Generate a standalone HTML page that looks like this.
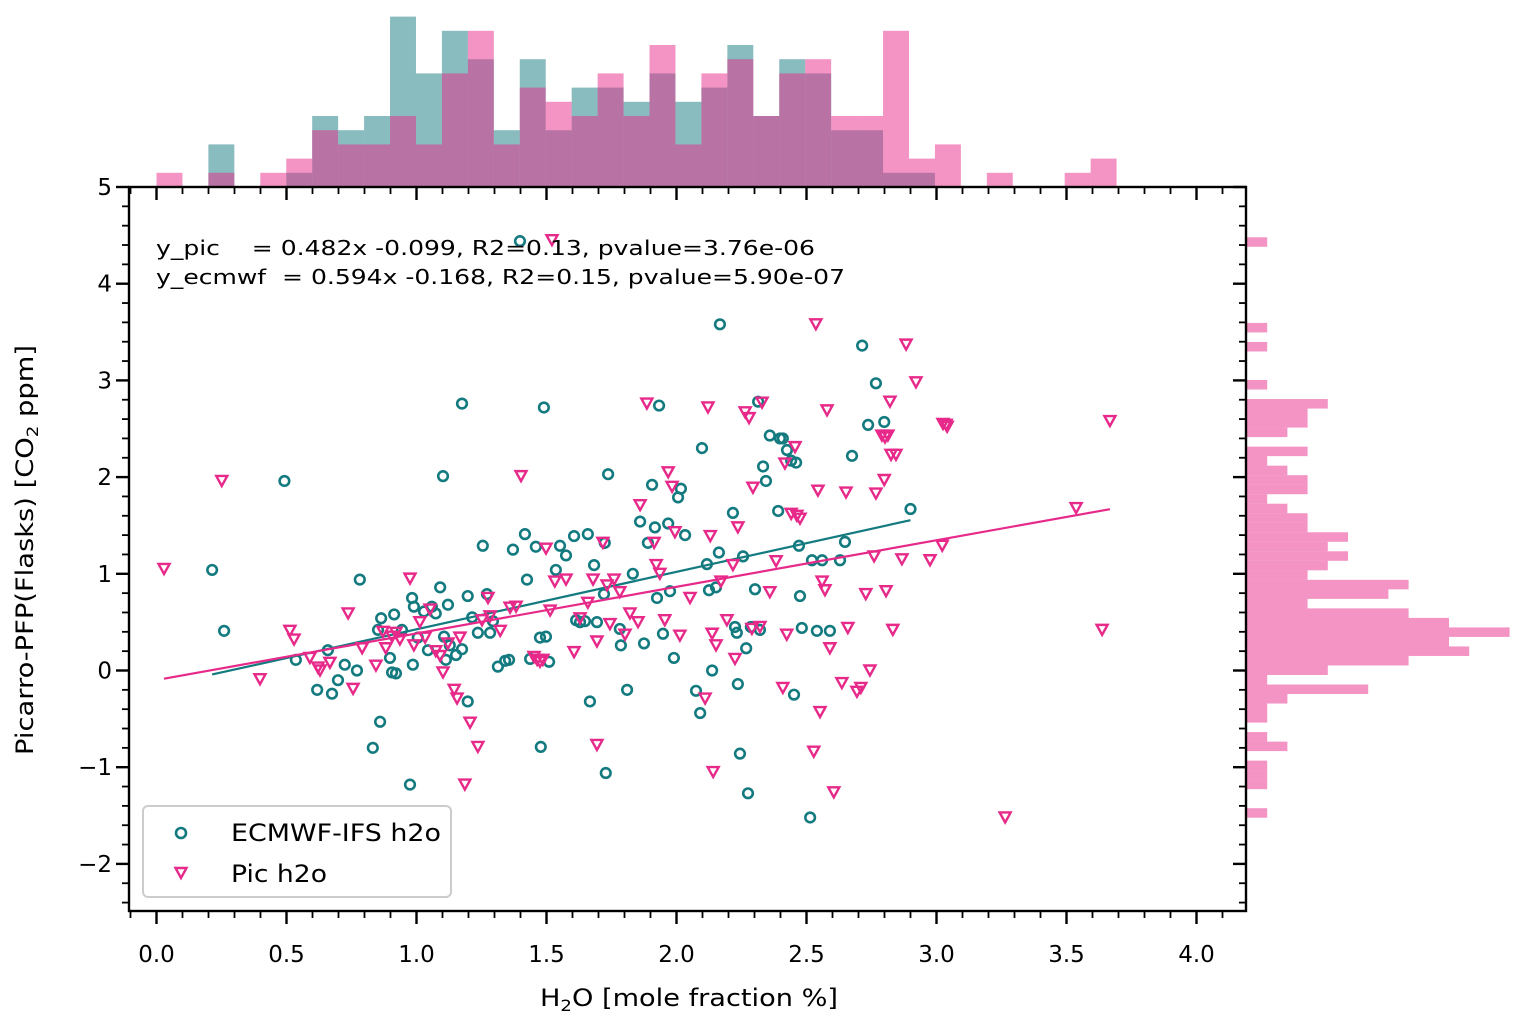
<!DOCTYPE html>
<html><head><meta charset="utf-8"><style>
body{margin:0;background:#fff;}
svg{display:block;font-family:"DejaVu Sans","Liberation Sans",sans-serif;}
</style></head><body>
<svg id="chart" width="1527" height="1027" viewBox="0 0 1527 1027" xmlns="http://www.w3.org/2000/svg">
<rect width="1527" height="1027" fill="#fff"/>
<g id="tophist"></g>
<g id="righthist"></g>
<g id="marks"></g>
<g id="axes"></g>
<text x="156" y="255" font-size="20" textLength="659" lengthAdjust="spacingAndGlyphs" xml:space="preserve">y_pic    = 0.482x -0.099, R2=0.13, pvalue=3.76e-06</text>
<text x="156" y="284" font-size="20" textLength="689" lengthAdjust="spacingAndGlyphs" xml:space="preserve">y_ecmwf  = 0.594x -0.168, R2=0.15, pvalue=5.90e-07</text>
<text x="689" y="1006" font-size="24" textLength="298" lengthAdjust="spacingAndGlyphs" text-anchor="middle">H<tspan font-size="16" dy="5">2</tspan><tspan dy="-5">O [mole fraction %]</tspan></text>
<text transform="translate(33,550) rotate(-90)" font-size="24" textLength="410" lengthAdjust="spacingAndGlyphs" text-anchor="middle">Picarro-PFP(Flasks) [CO<tspan font-size="16" dy="5">2</tspan><tspan dy="-5"> ppm]</tspan></text>
<g>
<rect x="143" y="806" width="308" height="91" rx="5" fill="#fff" fill-opacity="0.8" stroke="#cccccc" stroke-width="2"/>
<circle cx="181" cy="833" r="5" fill="none" stroke="#137a7f" stroke-width="2.6"/>
<text x="231" y="841" font-size="24" textLength="210" lengthAdjust="spacingAndGlyphs">ECMWF-IFS h2o</text>
<path d="M175.5,868 L186.5,868 L181,878 Z" fill="none" stroke="#e7298a" stroke-width="2.4"/>
<text x="231" y="882" font-size="24" textLength="96" lengthAdjust="spacingAndGlyphs">Pic h2o</text>
</g>
</svg>
<script>
const ecmwfX=[0.214,0.260,0.492,0.536,0.618,0.659,0.675,0.698,0.724,0.771,0.782,0.832,0.852,0.864,0.860,0.898,0.906,0.914,0.921,0.944,0.975,0.983,0.986,0.990,1.005,1.029,1.044,1.059,1.074,1.091,1.102,1.106,1.113,1.121,1.128,1.152,1.175,1.175,1.197,1.197,1.214,1.236,1.255,1.271,1.283,1.294,1.313,1.341,1.356,1.371,1.398,1.417,1.425,1.437,1.478,1.459,1.475,1.490,1.498,1.510,1.536,1.552,1.575,1.614,1.629,1.648,1.659,1.667,1.683,1.694,1.724,1.728,1.737,1.782,1.786,1.810,1.832,1.860,1.875,1.890,1.906,1.917,1.925,1.933,1.948,1.968,1.975,1.990,2.006,2.017,2.033,2.075,2.091,2.098,2.117,2.125,2.137,2.152,2.163,2.217,2.225,2.232,2.236,2.244,2.256,2.268,2.275,2.286,2.302,2.314,2.321,2.333,2.344,2.359,2.391,2.398,2.409,2.425,2.441,2.452,2.460,2.471,2.475,2.482,2.514,2.521,2.540,2.560,2.590,2.629,2.648,2.675,2.714,2.737,2.767,2.799,2.90,2.167,1.721,1.606];
const ecmwfY=[1.04,0.41,1.96,0.11,-0.20,0.21,-0.24,-0.10,0.06,0.00,0.94,-0.80,0.42,0.54,-0.53,0.13,-0.02,0.58,-0.03,0.42,-1.18,0.75,0.06,0.66,0.34,0.61,0.21,0.66,0.59,0.86,2.01,0.35,0.11,0.68,0.26,0.16,2.76,0.22,0.77,-0.32,0.55,0.39,1.29,0.79,0.39,0.51,0.04,0.10,0.11,1.25,4.44,1.41,0.94,0.12,-0.79,1.28,0.34,2.72,0.35,0.09,1.04,1.29,1.19,0.52,0.50,0.51,1.41,-0.32,1.09,0.50,1.32,-1.06,2.03,0.43,0.26,-0.20,1.00,1.54,0.28,1.32,1.92,1.48,0.75,2.74,0.38,1.52,0.82,0.13,1.79,1.88,1.40,-0.21,-0.44,2.30,1.10,0.83,0.00,0.86,1.22,1.63,0.45,0.39,-0.14,-0.86,1.18,0.23,-1.27,0.45,0.84,2.78,0.42,2.11,1.96,2.43,1.65,2.40,2.40,2.28,2.17,-0.25,2.15,1.29,0.77,0.44,-1.52,1.14,0.41,1.14,0.41,1.14,1.33,2.22,3.36,2.54,2.97,2.57,1.67,3.58,0.79,1.39];
const picX=[0.029,0.251,0.398,0.513,0.529,0.590,0.621,0.629,0.667,0.737,0.756,0.791,0.844,0.871,0.882,0.906,0.921,0.936,0.975,0.990,1.013,1.033,1.052,1.074,1.091,1.102,1.121,1.145,1.156,1.167,1.186,1.206,1.236,1.252,1.275,1.283,1.322,1.360,1.383,1.402,1.452,1.464,1.475,1.486,1.498,1.514,1.521,1.532,1.575,1.606,1.629,1.659,1.679,1.694,1.694,1.717,1.733,1.744,1.760,1.782,1.802,1.821,1.852,1.860,1.886,1.914,1.922,1.936,1.955,1.968,1.983,1.994,2.013,2.052,2.110,2.121,2.130,2.137,2.141,2.152,2.171,2.194,2.217,2.225,2.236,2.264,2.279,2.290,2.294,2.321,2.329,2.359,2.383,2.409,2.417,2.424,2.441,2.456,2.463,2.475,2.528,2.536,2.544,2.552,2.560,2.571,2.579,2.590,2.605,2.636,2.652,2.659,2.694,2.709,2.728,2.744,2.760,2.767,2.790,2.799,2.802,2.806,2.813,2.821,2.825,2.832,2.844,2.867,2.883,2.921,2.975,3.022,3.025,3.037,3.041,3.537,3.637,3.667,3.264];
const picY=[1.05,1.96,-0.09,0.41,0.32,0.13,0.03,0.00,0.08,0.59,-0.19,0.23,0.05,0.40,0.23,0.35,0.39,0.32,0.95,0.26,0.50,0.34,0.63,0.20,0.15,-0.02,0.28,-0.20,-0.29,0.34,-1.18,-0.54,-0.79,0.52,0.75,0.56,0.41,0.65,0.66,2.01,0.14,0.11,0.09,0.11,1.26,0.62,4.45,0.92,0.94,0.19,0.54,0.70,0.94,-0.77,0.30,1.32,0.88,0.48,0.94,0.81,0.37,0.59,0.50,1.71,2.76,1.32,1.09,1.00,0.52,2.05,1.90,1.43,0.36,0.75,-0.29,2.72,1.39,0.38,-1.05,0.26,0.92,0.52,1.09,0.12,1.48,2.67,2.61,0.43,1.89,0.45,2.77,0.81,1.13,-0.18,2.14,0.37,1.62,2.31,1.60,1.57,-0.84,3.58,1.86,-0.43,0.92,0.83,2.69,0.23,-1.26,-0.13,1.84,0.44,-0.22,-0.18,0.79,0.00,1.18,1.83,2.43,1.97,2.41,0.82,2.43,2.78,2.23,0.42,2.23,1.15,3.37,2.98,1.14,1.29,2.55,2.54,2.52,1.68,0.42,2.58,-1.52];
const picFit=[0.482,-0.099];
const ecmwfFit=[0.594,-0.168];
const topBinStart=0.0, topBinWidth=0.0998;
const topTeal=[0,0,3,0,0,1,5,4,5,12,8,11,9,4,9,4,7,7,6,8,6,7,10,5,9,8,4,4,1,1,0,0,0,0,0,0,0];
const topPink=[1,0,1,0,1,2,4,3,3,5,3,8,11,3,7,6,5,8,5,10,3,8,9,5,8,9,5,5,11,2,3,0,1,0,0,1,2];
const rightBinTop=4.48, rightBinWidth=0.0984;
const rightPink=[1,0,0,0,0,0,0,0,0,1,0,1,0,0,0,1,0,4,3,3,2,0,3,1,2,3,3,1,2,3,3,5,4,5,4,3,8,7,3,8,10,13,10,11,8,4,1,6,2,1,1,0,1,2,0,1,1,1,0,0,1];
const xTicks=[0,0.5,1,1.5,2,2.5,3,3.5,4];
const xTickLabels=["0.0","0.5","1.0","1.5","2.0","2.5","3.0","3.5","4.0"];
const yTicks=[-2,-1,0,1,2,3,4,5];
const yTickLabels=["\u22122","\u22121","0","1","2","3","4","5"];

const NS="http://www.w3.org/2000/svg";
const L=129,R=1246,T=187,B=911;
const X=v=>156.5+v*260;
const Y=v=>187+(5-v)*96.7;
function mk(tag,attrs,parent){const e=document.createElementNS(NS,tag);for(const k in attrs)e.setAttribute(k,attrs[k]);parent.appendChild(e);return e;}
const teal="#137a7f",pink="#e7298a";

const th=document.getElementById('tophist');
const cnt=14.2;
topTeal.forEach((c,i)=>{if(!c)return;const x0=X(topBinStart+i*topBinWidth),x1=X(topBinStart+(i+1)*topBinWidth);
const r=mk('rect',{x:x0,y:T-c*cnt,width:x1-x0,height:c*cnt,fill:teal,'fill-opacity':0.5},th);

});
topPink.forEach((c,i)=>{if(!c)return;const x0=X(topBinStart+i*topBinWidth),x1=X(topBinStart+(i+1)*topBinWidth);
const r=mk('rect',{x:x0,y:T-c*cnt,width:x1-x0,height:c*cnt,fill:pink,'fill-opacity':0.5},th);

});
const rh=document.getElementById('righthist');
rightPink.forEach((c,i)=>{if(!c)return;const y0=Y(rightBinTop-i*rightBinWidth),y1=Y(rightBinTop-(i+1)*rightBinWidth);
const r=mk('rect',{x:R+1,y:y0,width:c*20.2,height:y1-y0,fill:pink,'fill-opacity':0.5},rh);

});

const mg=document.getElementById('marks');
ecmwfX.forEach((v,i)=>{const c=mk('circle',{cx:X(v),cy:Y(ecmwfY[i]),r:4.8,fill:'none',stroke:teal,'stroke-width':2.6},mg);

});
function fitLine(xs,fit,col,name){const mn=Math.min(...xs),mx=Math.max(...xs);
const l=mk('line',{x1:X(mn),y1:Y(fit[0]*mn+fit[1]),x2:X(mx),y2:Y(fit[0]*mx+fit[1]),stroke:col,'stroke-width':2.2},mg);

}
fitLine(ecmwfX,ecmwfFit,teal,'ecmwf-fit-line');
picX.forEach((v,i)=>{const cx=X(v),cy=Y(picY[i]);
const p=mk('path',{d:`M${cx-5.5},${cy-5} L${cx+5.5},${cy-5} L${cx},${cy+5} Z`,fill:'none',stroke:pink,'stroke-width':2.4},mg);

});
fitLine(picX,picFit,pink,'pic-fit-line');

const ax=document.getElementById('axes');
mk('rect',{x:L,y:T,width:R-L,height:B-T,fill:'none',stroke:'#000','stroke-width':2.4},ax);
for(let k=-1;k<=42;k++){const v=k/10;const x=X(v);if(x<L-0.5||x>R+0.5)continue;const major=(k%5===0);const len=major?13:7;
mk('line',{x1:x,y1:B,x2:x,y2:B+len,stroke:'#000','stroke-width':major?2.4:1.8},ax);
mk('line',{x1:x,y1:T,x2:x,y2:T+len,stroke:'#000','stroke-width':major?2.4:1.8},ax);}
for(let k=-13;k<=25;k++){const v=k/5;const y=Y(v);if(y<T-0.5||y>B+0.5)continue;const major=(k%5===0);const len=major?13:7;
mk('line',{x1:L,y1:y,x2:L-len,y2:y,stroke:'#000','stroke-width':major?2.4:1.8},ax);
mk('line',{x1:R,y1:y,x2:R-len,y2:y,stroke:'#000','stroke-width':major?2.4:1.8},ax);}
xTicks.forEach((v,i)=>{const t=mk('text',{x:X(v),y:962,'font-size':23,'text-anchor':'middle'},ax);t.textContent=xTickLabels[i];

});
yTicks.forEach((v,i)=>{const t=mk('text',{x:112,y:Y(v)+8,'font-size':23,'text-anchor':'end'},ax);t.textContent=yTickLabels[i];

});
</script>
</body></html>
